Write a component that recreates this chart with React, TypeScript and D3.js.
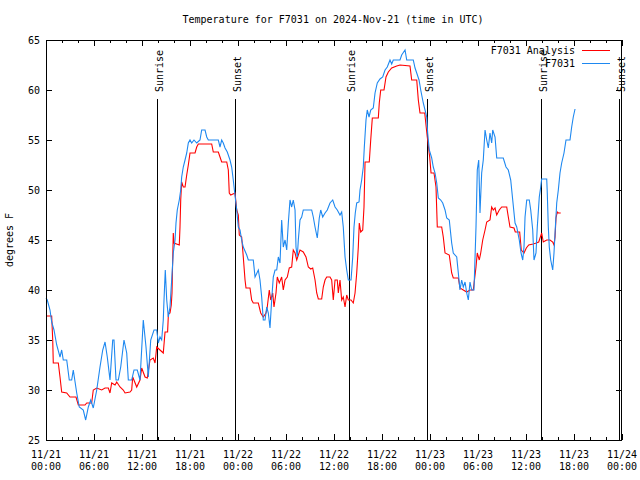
import React from 'react';
import * as d3 from 'd3';

const TITLE = 'Temperature for F7031 on 2024-Nov-21 (time in UTC)';
const Y_LABEL = 'degrees F';
const START_MS = Date.UTC(2024, 10, 21, 0, 0);
const SPAN_HOURS = 72;
const Y_TICKS = [25, 30, 35, 40, 45, 50, 55, 60, 65];
const SUNRISE_HOURS = [13.9, 37.9, 61.9];
const SUNSET_HOURS = [23.6, 47.6, 71.6];
const SERIES_NAMES = ['F7031 Analysis', 'F7031'];
const SERIES_COLORS = ['#ff0000', '#1e88f0'];

// [hours since 11/21 00:00 UTC, deg F]
const obsSeries: [number, number][] = [
  [0,39.2],[0.16,39],[0.5,38],[0.71,36.8],[1.0,36],[1.34,34.5],[1.75,33.3],[1.96,34],[2.16,33],[2.59,33],[2.91,31],[3.21,31],[3.41,32],[3.84,29.7],[4.16,28.3],[4.66,28],[4.96,27],[5.29,28.3],[5.59,29],[5.91,28.2],[6.34,30],[6.75,32.3],[7.09,34],[7.38,34.8],[7.66,33.3],[8.0,31],[8.34,35],[8.5,35],[8.75,31],[9.04,31],[9.34,32.3],[9.75,35],[10.09,33.7],[10.29,31],[10.71,31],[11.0,32],[11.41,32],[11.75,31],[12.16,37],[12.5,34.3],[12.79,31.3],[13.09,35],[13.5,36],[13.84,36],[14.04,34.7],[14.25,35.3],[14.46,35],[14.66,37],[14.75,39],[14.91,42],[15.09,39],[15.29,37.3],[15.5,38.3],[15.71,41],[15.91,43.7],[16.13,45],[16.25,46.7],[16.41,48],[16.66,49],[16.84,50],[16.96,51.3],[17.16,52.3],[17.38,53],[17.59,53.7],[17.79,54.7],[18.0,55],[18.21,54.7],[18.5,55],[18.84,54.7],[19.25,55],[19.46,56],[19.88,56],[20.09,55.3],[20.29,55],[21.54,55],[21.75,54.3],[21.96,55],[22.16,54.7],[22.38,54.2],[22.66,53.8],[23.0,53],[23.21,52.3],[23.41,51],[23.59,49.7],[23.84,48],[24.04,46.3],[24.25,46],[24.46,45],[24.66,44.3],[25.09,43.5],[25.29,43],[25.91,43],[26.13,41.3],[26.54,42],[26.75,41],[26.96,39.3],[27.16,37],[27.38,37],[27.59,38.3],[27.79,37.7],[28.0,36.2],[28.21,39],[28.41,41.3],[28.63,42],[28.84,42],[29.04,43.3],[29.25,42.7],[29.46,47],[29.66,44.3],[29.88,45],[30.09,44],[30.29,46.7],[30.5,49],[30.71,48.3],[30.91,49],[31.13,48],[31.25,44.3],[31.41,43.3],[31.54,45],[31.75,47],[31.96,47.3],[32.16,48],[33.21,48],[33.41,47.3],[33.63,46.3],[33.91,45.2],[34.16,47.2],[34.34,48],[34.59,47.3],[34.88,47.7],[35.16,48],[35.5,48.7],[35.84,49],[36.13,48.3],[36.41,48],[36.75,47.5],[36.96,47.8],[37.16,46.3],[37.38,43.3],[37.59,42],[37.79,41],[38.13,41],[38.34,43.3],[38.5,46.3],[38.66,47.7],[38.84,48.7],[39.13,48.8],[39.25,50],[39.46,51],[39.66,52.3],[39.79,54.3],[40.0,57],[40.16,58],[40.38,57.3],[40.59,58],[40.91,58.2],[41.13,59.7],[41.41,60.7],[41.75,61.1],[42.09,61.3],[42.38,62],[42.66,62.3],[43.0,63],[43.21,62.6],[43.41,63],[44.25,63],[44.46,63.5],[44.88,64],[45.09,63],[45.91,63],[46.13,62.2],[46.34,61.7],[46.63,61],[46.84,60],[47.16,58.7],[47.38,58],[47.59,57.3],[47.71,55.7],[47.91,54],[48.21,53.2],[48.41,52.3],[48.63,51.7],[48.84,50.7],[49.04,49.2],[49.34,49],[49.59,48.7],[49.88,48],[50.09,47.2],[50.41,47],[50.71,44.7],[50.91,43.7],[51.34,43.3],[51.54,41.7],[51.75,40],[51.96,41],[52.16,40.3],[52.38,40.8],[52.59,39.7],[52.79,39],[53.0,40.8],[53.21,40],[53.5,40],[53.75,46.3],[53.91,52],[54.09,53],[54.25,47.7],[54.46,51.7],[54.66,53],[54.88,56],[55.09,55],[55.29,54.2],[55.5,55.7],[55.71,54.7],[55.84,56],[56.13,55.3],[56.34,53.2],[57.16,53.2],[57.5,52.3],[57.79,52],[58.09,51],[58.34,49],[58.63,46.7],[58.84,46.3],[59.16,45],[59.38,43.7],[59.59,43],[59.75,44.3],[59.88,47.3],[60.09,49],[60.41,49],[60.59,48],[60.84,46],[61.0,43],[61.25,43.7],[61.41,46.3],[61.66,49.3],[61.84,50.3],[61.96,51.1],[62.59,51.1],[62.66,49.7],[62.79,46.3],[62.91,44.3],[63.09,43],[63.34,42],[63.5,43.7],[63.63,45.7],[63.84,48.7],[64.04,50],[64.25,51.7],[64.46,52.7],[64.75,53.7],[65.0,55],[65.5,55],[65.71,56.3],[65.91,57.3],[66.13,58.1]
];

const anaSeries: [number, number][] = [
  [0,37.4],[0.71,37.4],[0.84,35],[0.91,32.7],[1.54,32.7],[1.75,31.3],[1.96,29.8],[2.59,29.7],[3.0,29.3],[3.75,29.3],[4.04,28.5],[4.88,28.5],[5.09,28.7],[5.71,28.7],[5.91,30],[6.34,30.2],[6.96,30],[7.38,30.2],[7.79,30.2],[8.0,29.7],[8.21,30.7],[8.63,30.5],[8.84,30.8],[9.25,30.3],[9.66,30],[9.88,29.7],[10.5,29.8],[10.71,30],[10.84,31.3],[11.34,30.3],[11.75,31],[11.96,32.2],[12.38,31.3],[12.66,31.2],[13.0,33],[13.41,33.2],[13.63,32.7],[13.84,34.3],[14.25,34],[14.66,33.7],[14.88,35.8],[15.2,35.8],[15.3,37.6],[15.5,37.7],[15.66,38.5],[15.75,39.7],[15.79,41.3],[15.91,45.7],[16.0,44.7],[16.66,44.5],[16.75,46.3],[16.84,49],[16.96,50.8],[17.16,50.3],[17.38,50.3],[17.59,51.5],[17.79,52.5],[18.0,53.7],[18.63,53.7],[18.84,54.3],[19.04,54.6],[20.71,54.6],[20.91,53.8],[21.54,53.8],[21.75,53.3],[21.96,52.8],[22.59,52.8],[22.79,52],[22.91,49.7],[23.09,49.5],[23.63,49.7],[23.84,48],[24.04,47.5],[24.16,45.5],[24.46,45.3],[24.66,43.3],[24.88,41],[25.0,40.2],[25.5,40.2],[25.71,39],[25.91,38.7],[26.54,38.7],[26.84,37.7],[27.16,37.3],[27.5,37.7],[27.66,38.3],[27.91,40],[28.09,39],[28.34,39.7],[28.5,38.3],[28.75,39.7],[28.91,41.3],[29.16,40.7],[29.46,41.3],[29.66,40],[29.88,41],[30.16,41.3],[30.41,42.2],[30.71,42.3],[30.91,44],[31.13,43.7],[31.34,43],[31.54,43.5],[31.75,44],[32.16,43.8],[32.5,43.3],[32.79,42.3],[33.09,42.1],[33.34,42.2],[33.63,41],[33.84,39.7],[34.04,39.1],[34.46,39.1],[34.66,40.3],[34.88,41],[35.09,41.3],[35.5,41.3],[35.71,41],[35.91,39],[36.13,41],[36.41,41],[36.54,39.7],[36.75,41],[36.96,39],[37.16,39.3],[37.38,38.3],[37.59,39.5],[37.79,39],[38.13,39],[38.41,38.7],[38.63,39.7],[38.84,41.7],[39.04,44.3],[39.16,46.7],[39.34,45.8],[39.59,46],[39.75,48.3],[39.88,52.8],[40.41,52.8],[40.59,55],[40.79,57.2],[41.54,57.2],[41.66,58.7],[41.84,60],[42.25,60],[42.5,61.3],[42.79,61.8],[43.21,62.2],[43.84,62.4],[44.25,62.5],[45.5,62.4],[45.71,61],[46.34,61],[46.54,59],[46.75,57.7],[47.34,57.7],[47.66,55.3],[47.96,53.3],[48.13,51.7],[48.5,51.7],[48.75,50.3],[48.91,46.3],[49.46,46.3],[49.66,45.3],[49.88,43.7],[50.41,43.5],[50.71,41.7],[50.91,41.2],[51.54,41.2],[51.75,40.2],[52.16,40],[52.59,39.8],[53.0,40],[53.41,40],[53.75,42.3],[53.91,43.7],[54.16,43],[54.34,43.7],[54.59,45],[54.88,46],[55.09,46.8],[55.5,47],[55.71,48.3],[55.91,48],[56.13,48.2],[56.34,47.5],[56.66,48],[56.96,48.3],[57.59,48.3],[57.79,47.3],[58.0,46.3],[58.5,46.2],[58.66,45.8],[59.21,45.8],[59.41,44],[59.75,43.7],[60.04,44.2],[60.34,44.5],[60.88,44.6],[61.29,44.7],[61.59,44.8],[61.96,45.7],[62.16,44.8],[62.59,45],[63.0,45],[63.34,44.8],[63.5,44.5],[63.63,45.3],[63.75,47.2],[63.91,47.8],[64.04,47.7],[64.34,47.7]
];

const FONT = '"DejaVu Sans Mono", "Liberation Mono", monospace';
const HOUR = 3600 * 1000;
const toDate = (h: number) => new Date(START_MS + h * HOUR);

export default function App() {
  const W = 640, H = 480;
  const left = 46, right = 622, top = 40, bottom = 440;
  const x = d3.scaleUtc().domain([toDate(0), toDate(SPAN_HOURS)]).range([left, right]);
  const y = d3.scaleLinear().domain([25, 65]).range([bottom, top]);

  const majorTicks = x.ticks(d3.utcHour.every(6) as d3.TimeInterval);
  const minorTicks = x.ticks(d3.utcHour.every(2) as d3.TimeInterval);
  const fmtDate = d3.utcFormat('%m/%d');
  const fmtTime = d3.utcFormat('%H:%M');

  const line = d3
    .line<[number, number]>()
    .x((d) => x(toDate(d[0])))
    .y((d) => y(d[1]));

  const series = [anaSeries, obsSeries];

  return (
    <svg
      width={W}
      height={H}
      style={{ position: 'absolute', left: 0, top: 0, background: '#fff' }}
      fontFamily={FONT}
      fontSize={10}
    >
      <rect x={0} y={0} width={W} height={H} fill="#fff" />
      <text x={333} y={23} textAnchor="middle" fill="#000">{TITLE}</text>

      {/* y ticks */}
      {Y_TICKS.map((t) => (
        <g key={'y' + t} shapeRendering="crispEdges">
          <line x1={left} x2={left + 6} y1={Math.round(y(t)) + 0.5} y2={Math.round(y(t)) + 0.5} stroke="#000" />
          <line x1={right - 6} x2={right} y1={Math.round(y(t)) + 0.5} y2={Math.round(y(t)) + 0.5} stroke="#000" />
          <text x={40} y={y(t) + 4} textAnchor="end" fill="#000">{t}</text>
        </g>
      ))}

      {/* x minor ticks */}
      {minorTicks.map((d, i) => {
        const xx = Math.round(x(d)) + 0.5;
        return (
          <g key={'m' + i} shapeRendering="crispEdges">
            <line x1={xx} x2={xx} y1={bottom} y2={bottom - 3} stroke="#000" />
            <line x1={xx} x2={xx} y1={top} y2={top + 3} stroke="#000" />
          </g>
        );
      })}
      {/* x major ticks + labels */}
      {majorTicks.map((d, i) => {
        const xx = Math.round(x(d)) + 0.5;
        return (
          <g key={'M' + i}>
            <g shapeRendering="crispEdges">
              <line x1={xx} x2={xx} y1={bottom} y2={bottom - 6} stroke="#000" />
              <line x1={xx} x2={xx} y1={top} y2={top + 6} stroke="#000" />
            </g>
            <text x={x(d)} y={458} textAnchor="middle" fill="#000">{fmtDate(d)}</text>
            <text x={x(d)} y={470} textAnchor="middle" fill="#000">{fmtTime(d)}</text>
          </g>
        );
      })}

      {/* y label */}
      <text transform={`translate(13,240) rotate(-90)`} textAnchor="middle" fill="#000">{Y_LABEL}</text>

      {/* sunrise / sunset markers */}
      {SUNRISE_HOURS.map((h, i) => {
        const xx = Math.round(x(toDate(h))) + 0.5;
        return (
          <g key={'sr' + i}>
            <line x1={xx} x2={xx} y1={99} y2={bottom} stroke="#000" shapeRendering="crispEdges" />
            <text transform={`translate(${xx + 5},92) rotate(-90)`} textAnchor="start" fill="#000">Sunrise</text>
          </g>
        );
      })}
      {SUNSET_HOURS.map((h, i) => {
        const xx = Math.round(x(toDate(h))) + 0.5;
        return (
          <g key={'ss' + i}>
            <line x1={xx} x2={xx} y1={99} y2={bottom} stroke="#000" shapeRendering="crispEdges" />
            <text transform={`translate(${xx + 5},92) rotate(-90)`} textAnchor="start" fill="#000">Sunset</text>
          </g>
        );
      })}

      {/* data */}
      {series.map((s, i) => (
        <path key={'s' + i} d={line(s) || ''} fill="none" stroke={SERIES_COLORS[i]} strokeWidth={1.1} />
      ))}

      {/* legend */}
      {SERIES_NAMES.map((n, i) => (
        <g key={'lg' + i}>
          <text x={575} y={54 + i * 12.5} textAnchor="end" fill="#000">{n}</text>
          <line x1={582} x2={610} y1={50.5 + i * 12.5} y2={50.5 + i * 12.5} stroke={SERIES_COLORS[i]} shapeRendering="crispEdges" />
        </g>
      ))}

      {/* frame */}
      <rect x={left + 0.5} y={top + 0.5} width={right - left - 1} height={bottom - top} fill="none" stroke="#000" shapeRendering="crispEdges" />
    </svg>
  );
}
